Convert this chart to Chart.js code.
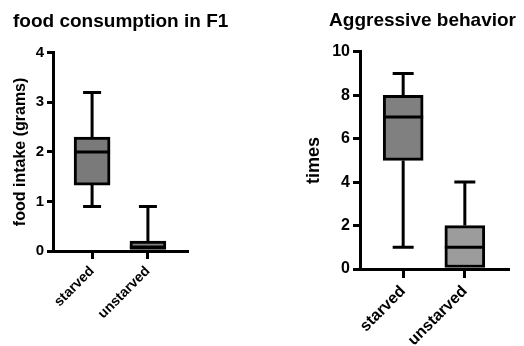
<!DOCTYPE html>
<html>
<head>
<meta charset="utf-8">
<script src="https://cdn.jsdelivr.net/npm/chart.js@4"></script>
<style>
  html, body { margin: 0; padding: 0; background: #fff; }
  #wrap { position: relative; width: 524px; height: 346px; overflow: hidden; }
  .panel { position: absolute; top: 0; width: 262px; height: 346px; }
</style>
</head>
<body>
<div id="wrap">
  <div class="panel" style="left:0"><canvas id="c1" width="262" height="346"></canvas></div>
  <div class="panel" style="left:262px"><canvas id="c2" width="262" height="346"></canvas></div>
</div>
<script>
// ---- data ----
const categories = ['starved', 'unstarved'];

const foodTitle = 'food consumption in F1';
const foodAxisTitle = 'food intake (grams)';
const foodMin    = [0.9, 0];
const foodQ1     = [1.33, 0];
const foodMedian = [2.0, 0.08];
const foodQ3     = [2.3, 0.2];
const foodMax    = [3.2, 0.9];
const foodTicks  = [0, 1, 2, 3, 4];

const aggTitle = 'Aggressive behavior';
const aggAxisTitle = 'times';
const aggMin    = [1, 0];
const aggQ1     = [5, 0];
const aggMedian = [7, 1];
const aggQ3     = [8, 2];
const aggMax    = [9, 4];
const aggTicks  = [0, 2, 4, 6, 8, 10];

const FONT = "'Liberation Sans', Arial, Helvetica, sans-serif";

function whiskerPlugin(mins, meds, maxs, capW) {
  return {
    id: 'whiskers',
    afterDatasetsDraw(chart) {
      const ctx = chart.ctx;
      const xs = chart.scales.x, ys = chart.scales.y;
      const meta = chart.getDatasetMeta(0);
      ctx.save();
      ctx.strokeStyle = '#000';
      ctx.lineWidth = 3;
      ctx.lineCap = 'butt';
      meta.data.forEach((bar, i) => {
        const cx = xs.getPixelForValue(i);
        const q1 = meta._parsed[i]._custom.barStart;
        const q3 = meta._parsed[i]._custom.barEnd;
        const pMin = ys.getPixelForValue(mins[i]);
        const pMax = ys.getPixelForValue(maxs[i]);
        const pQ1 = ys.getPixelForValue(Math.min(q1, q3));
        const pQ3 = ys.getPixelForValue(Math.max(q1, q3));
        const pMed = ys.getPixelForValue(meds[i]);
        ctx.beginPath();
        if (maxs[i] > Math.max(q1, q3)) {
          ctx.moveTo(cx, pQ3); ctx.lineTo(cx, pMax);
          ctx.moveTo(cx - capW / 2, pMax); ctx.lineTo(cx + capW / 2, pMax);
        }
        if (mins[i] < Math.min(q1, q3)) {
          ctx.moveTo(cx, pQ1); ctx.lineTo(cx, pMin);
          ctx.moveTo(cx - capW / 2, pMin); ctx.lineTo(cx + capW / 2, pMin);
        }
        const half = bar.width / 2;
        ctx.moveTo(cx - half, pMed); ctx.lineTo(cx + half, pMed);
        ctx.stroke();
      });
      ctx.restore();
    }
  };
}

function makeChart(id, opt) {
  const data = categories.map((c, i) => ({ x: i, y: [opt.q1[i], opt.q3[i]] }));
  return new Chart(document.getElementById(id), {
    type: 'bar',
    data: {
      datasets: [{
        data: data,
        backgroundColor: opt.fills,
        borderColor: '#000',
        borderWidth: 3,
        borderSkipped: false,
        barThickness: opt.barW
      }]
    },
    options: {
      responsive: false,
      animation: false,
      events: [],
      layout: { padding: { left: opt.padL, right: opt.padR, top: 0, bottom: 0 } },
      plugins: {
        legend: { display: false },
        tooltip: { enabled: false },
        title: {
          display: true,
          text: opt.title,
          align: opt.titleAlign,
          color: '#000',
          font: { family: FONT, size: opt.titleSize, weight: 'bold', lineHeight: 1.2 },
          padding: { top: opt.titlePadTop, bottom: opt.titlePadBottom }
        }
      },
      scales: {
        x: {
          type: 'linear',
          min: -0.7,
          max: 1.7,
          offset: false,
          afterBuildTicks(scale) { scale.ticks = categories.map((c, i) => ({ value: i })); },
          afterFit(scale) { scale.height = opt.xAxisH; },
          grid: { display: true, offset: false, drawOnChartArea: false, drawTicks: true, tickLength: opt.xTickLen, lineWidth: 3, color: '#000' },
          border: { display: true, width: 3, color: '#000' },
          ticks: {
            autoSkip: false,
            maxRotation: 45,
            minRotation: 45,
            padding: 4,
            color: '#000',
            font: { family: FONT, size: opt.xLabelSize, weight: 'bold' },
            callback: (v) => categories[v]
          }
        },
        y: {
          type: 'linear',
          position: 'left',
          min: opt.ticks[0],
          max: opt.ticks[opt.ticks.length - 1],
          afterBuildTicks(scale) { scale.ticks = opt.ticks.map(v => ({ value: v })); },
          afterFit(scale) { scale.width = opt.yAxisW; },
          grid: { display: true, drawOnChartArea: false, drawTicks: true, tickLength: opt.yTickLen, lineWidth: 3, color: '#000' },
          border: { display: true, width: 3, color: '#000' },
          ticks: { padding: 3, color: '#000', font: { family: FONT, size: opt.yLabelSize, weight: 'bold' } },
          title: {
            display: true,
            text: opt.axisTitle,
            color: '#000',
            font: { family: FONT, size: opt.axisTitleSize, weight: 'bold', lineHeight: 1 },
            padding: { top: opt.axisTitlePad, bottom: 0 }
          }
        },
        spacer: {
          type: 'linear',
          position: 'right',
          display: true,
          afterFit(scale) { scale.width = opt.spacerW; },
          grid: { display: false },
          border: { display: false },
          ticks: { display: false }
        }
      }
    },
    plugins: [whiskerPlugin(opt.min, opt.med, opt.max, opt.capW)]
  });
}

makeChart('c1', {
  title: foodTitle, titleAlign: 'start', titleSize: 19, titlePadTop: 10, titlePadBottom: 20,
  axisTitle: foodAxisTitle, axisTitleSize: 16, axisTitlePad: 0,
  min: foodMin, q1: foodQ1, med: foodMedian, q3: foodQ3, max: foodMax, ticks: foodTicks,
  fills: ['#7a7a7a', '#808080'], barW: 36, capW: 18,
  padL: 13, padR: 0, yAxisW: 40, spacerW: 75, xAxisH: 95,
  xTickLen: 8, yTickLen: 6, xLabelSize: 14, yLabelSize: 15
});

makeChart('c2', {
  title: aggTitle, titleAlign: 'end', titleSize: 19, titlePadTop: 9, titlePadBottom: 20,
  axisTitle: aggAxisTitle, axisTitleSize: 18, axisTitlePad: 3,
  min: aggMin, q1: aggQ1, med: aggMedian, q3: aggQ3, max: aggMax, ticks: aggTicks,
  fills: ['#808080', '#9c9c9c'], barW: 40, capW: 21,
  padL: 40, padR: 8, yAxisW: 58, spacerW: 8, xAxisH: 77,
  xTickLen: 9, yTickLen: 7, xLabelSize: 16, yLabelSize: 16
});
</script>
</body>
</html>
